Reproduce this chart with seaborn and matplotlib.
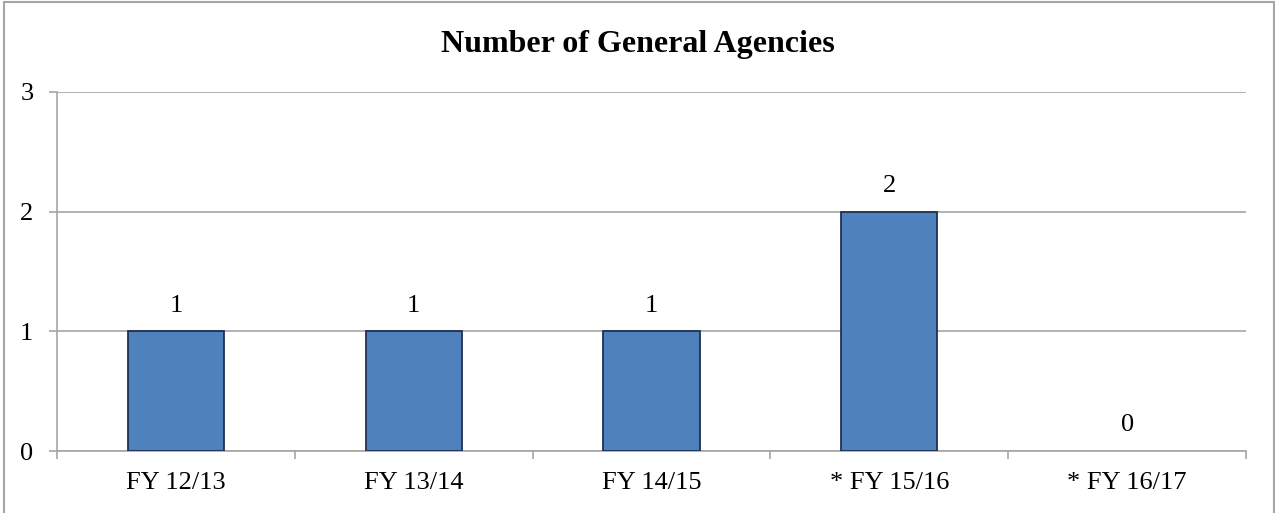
import matplotlib
matplotlib.use("Agg")
import matplotlib.pyplot as plt
import seaborn as sns
import pandas as pd
from matplotlib.patches import Rectangle

# Fiscal years and agency counts
fiscal_years = ["FY 12/13", "FY 13/14", "FY 14/15", "* FY 15/16", "* FY 16/17"]
agency_counts = [1, 1, 1, 2, 0]
y_ticks = [0, 1, 2, 3]

df = pd.DataFrame({"year": fiscal_years, "count": agency_counts})

sns.set_theme(style="white")
plt.rcParams["font.family"] = ["Liberation Serif", "DejaVu Serif"]
plt.rcParams["text.color"] = "black"
plt.rcParams["xtick.labelcolor"] = "black"
plt.rcParams["ytick.labelcolor"] = "black"

fig = plt.figure(figsize=(12.75, 5.13), dpi=100)
ax = fig.add_axes([57 / 1275, 1 - 451 / 513, (1246 - 57) / 1275, (451 - 92) / 513])

grid_col = "#A6A6A6"
label_size = 19
sns.barplot(data=df, x="year", y="count", color="#4F81BD", saturation=1,
            width=0.404, edgecolor="#1F3050", linewidth=1.3, ax=ax, zorder=3)

# Empty bars get no outline
for patch, v in zip(ax.patches, agency_counts):
    if v == 0:
        patch.set_linewidth(0)

ax.set_ylim(0, 3)
ax.set_xlim(-0.5, len(fiscal_years) - 0.5)
ax.set_yticks(y_ticks)
ax.set_yticklabels([str(t) for t in y_ticks])
ax.yaxis.grid(True, color=grid_col, linewidth=1.2, zorder=0)
ax.set_axisbelow(True)

# Category-boundary tick marks on the x axis
ax.set_xticks(range(len(fiscal_years)))
ax.set_xticklabels(fiscal_years)
ax.set_xticks([i - 0.5 for i in range(len(fiscal_years) + 1)], minor=True)
ax.tick_params(axis="x", which="major", length=0, pad=15, labelsize=label_size, labelcolor="black")
ax.tick_params(axis="x", which="minor", length=6, width=1.2, color=grid_col, direction="out", bottom=True)
ax.tick_params(axis="y", which="major", length=6, width=1.2, color=grid_col, direction="out", left=True,
               pad=11, labelsize=label_size, labelcolor="black")

for side in ["top", "right"]:
    ax.spines[side].set_visible(False)
for side in ["left", "bottom"]:
    ax.spines[side].set_color(grid_col)
    ax.spines[side].set_linewidth(1.2)

ax.set_xlabel("")
ax.set_ylabel("")

for cont in ax.containers:
    ax.bar_label(cont, labels=[str(v) for v in agency_counts], padding=10.5,
                 fontsize=label_size, color="black")

fig.text(0.5, 1 - 52 / 513, "Number of General Agencies", ha="center", va="baseline",
         fontsize=23, fontweight="bold", color="black")

# Outer frame around the chart
fig.patches.append(Rectangle((3.5 / 1275, -0.02), (1273.5 - 3.5) / 1275, 1.02 - 2.5 / 513,
                             transform=fig.transFigure, fill=False, edgecolor="#A6A6A6",
                             linewidth=1.5))

fig.savefig("out.png", dpi=100)
